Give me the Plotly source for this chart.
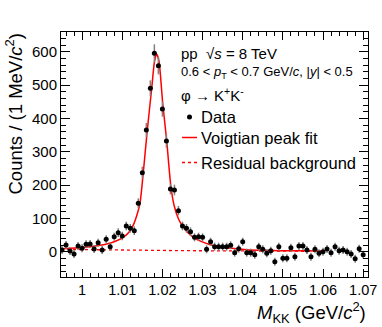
import plotly.graph_objects as go

# phi -> K+K- invariant mass, 1 MeV bins
mass = [0.995 + 0.001 * i for i in range(76)]
counts = [5, 20, 2, -7, 17, 10, 22, 23, 8, 27,
          5, 37, 15, 45, 57, 47, 77, 70, 63, 145,
          237, 365, 490, 595, 558, 428, 332, 188, 185, 123,
          77, 70, 60, 43, 45, 43, 7, 30, 15, 15,
          15, 15, 19, -3, 9, 30, -3, -3, -9, 15,
          7, -5, 3, -30, 15, -20, -20, 12, -15, 17,
          17, 5, -15, 7, -5, 0, 8, -3, 15, 3,
          5, 0, -7, -21, 9, -9]
errors = [12, 12, 12, 12, 12, 12, 12, 12, 12, 12,
          12, 12, 12, 12, 13, 13, 13, 13, 13, 15,
          18, 21, 24, 27, 26, 23, 20, 16, 16, 14,
          13, 13, 13, 12, 12, 12, 12, 12, 12, 12,
          12, 12, 12, 12, 12, 12, 12, 12, 12, 12,
          12, 12, 12, 12, 12, 12, 12, 12, 12, 12,
          12, 12, 12, 12, 12, 12, 12, 12, 12, 12,
          12, 12, 12, 12, 12, 12]

# voigtian fit curve
fit_mass = [0.99475, 0.99824, 1.00197, 1.00613, 1.00845, 1.01026, 1.01193, 1.01293,
            1.01360, 1.01442, 1.01524, 1.01624, 1.01734, 1.01803, 1.01858, 1.01915,
            1.02008, 1.02107, 1.02207, 1.02289, 1.02401, 1.02506, 1.02637, 1.02787,
            1.02961, 1.03310, 1.03726, 1.04099, 1.04555, 1.04929, 1.05427, 1.06]
fit_counts = [9, 11, 15, 23, 32, 43, 62, 85,
              108, 145, 237, 365, 490, 570, 592, 572,
              445, 333, 200, 140, 98, 76, 57, 42,
              31, 17, 10, 6, 4, 3, 2.5, 2]

bkg_mass = [0.99475, 1.025, 1.06]
bkg_counts = [7, 3, 1]

x_ticks = [1.00, 1.01, 1.02, 1.03, 1.04, 1.05, 1.06, 1.07]
x_ticklabels = ['1', '1.01', '1.02', '1.03', '1.04', '1.05', '1.06', '1.07']

FONT = 'Liberation Sans'
L, R, T, B = 61, 14, 32, 50
W, H = 382, 327
pw, ph = W - L - R, H - T - B


def px(x):
    return (x - L) / pw


def py(y):
    return (H - B - y) / ph


fig = go.Figure()
fig.add_trace(go.Scatter(x=bkg_mass, y=bkg_counts, mode='lines',
                         line=dict(color='red', width=1.3, dash='dot')))
fig.add_trace(go.Scatter(x=fit_mass, y=fit_counts, mode='lines',
                         line=dict(color='red', width=1.5, shape='spline', smoothing=0.6)))
fig.add_trace(go.Scatter(x=mass, y=counts, mode='markers',
                         marker=dict(color='black', size=5),
                         error_y=dict(type='data', array=errors, color='#808080',
                                      thickness=1.5, width=0)))

axis = dict(showline=True, linecolor='black', linewidth=1, mirror='allticks',
            ticks='inside', tickcolor='black', tickwidth=1, showgrid=False, zeroline=False,
            automargin=False)
fig.update_xaxes(**axis, range=[0.99475, 1.0712], tickmode='array', tickvals=x_ticks,
                 ticktext=x_ticklabels, ticklen=8, tickangle=0,
                 tickfont=dict(family=FONT, size=14.5, color='black'),
                 minor=dict(tickmode='linear', tick0=1.0, dtick=0.002, ticks='inside',
                            ticklen=4, tickcolor='black'))
fig.update_yaxes(**axis, range=[-76, 659], tick0=0, dtick=100, ticklen=9,
                 tickfont=dict(family=FONT, size=15, color='black'),
                 minor=dict(tick0=0, dtick=20, ticks='inside', ticklen=5, tickcolor='black'))

notes = [
    ('pp  √<i>s</i> = 8 TeV', 179, 53, 15),
    ('0.6 < <i>p</i><sub>T</sub> < 0.7 GeV/<i>c</i>, |<i>y</i>| < 0.5', 179, 72, 13),
    ('φ → K<sup>+</sup>K<sup>-</sup>', 179, 94, 15),
    ('Data', 199, 117, 16.5),
    ('Voigtian peak fit', 199, 137.5, 16.5),
    ('Residual background', 199, 162.5, 16.5),
]
for text, x, y, size in notes:
    fig.add_annotation(text=text, x=px(x), y=py(y), xref='paper', yref='paper',
                       xanchor='left', yanchor='middle', showarrow=False,
                       font=dict(family=FONT, size=size, color='black'))

# legend glyphs
fig.add_shape(type='circle', xref='paper', yref='paper', xsizemode='pixel', ysizemode='pixel',
              xanchor=px(189.5), yanchor=py(117), x0=-2.5, x1=2.5, y0=-2.5, y1=2.5,
              fillcolor='black', line=dict(color='black', width=0))
fig.add_shape(type='line', xref='paper', yref='paper', x0=px(182), x1=px(197),
              y0=py(137.5), y1=py(137.5), line=dict(color='red', width=1.5))
fig.add_shape(type='line', xref='paper', yref='paper', x0=px(182), x1=px(197),
              y0=py(162.5), y1=py(162.5), line=dict(color='red', width=1.3, dash='dot'))

# axis titles, ROOT style (right/top aligned)
fig.add_annotation(text='<i>M</i><sub>KK</sub> (GeV/<i>c</i><sup>2</sup>)', x=1, y=py(296.5),
                   xref='paper', yref='paper', xanchor='right', yanchor='top',
                   showarrow=False, font=dict(family=FONT, size=18.5, color='black'))
fig.add_annotation(text='Counts / (1 MeV/<i>c</i><sup>2</sup>)', x=px(14), y=1,
                   xref='paper', yref='paper', xanchor='center', yanchor='top',
                   textangle=-90, showarrow=False, font=dict(family=FONT, size=18.5, color='black'))

fig.update_layout(width=W, height=H, showlegend=False,
                  plot_bgcolor='white', paper_bgcolor='white',
                  margin=dict(l=L, r=R, t=T, b=B),
                  font=dict(family=FONT, color='black'))
fig.write_html('out.html', config={'displayModeBar': False},
               post_script='document.body.style.margin = "0px";')
